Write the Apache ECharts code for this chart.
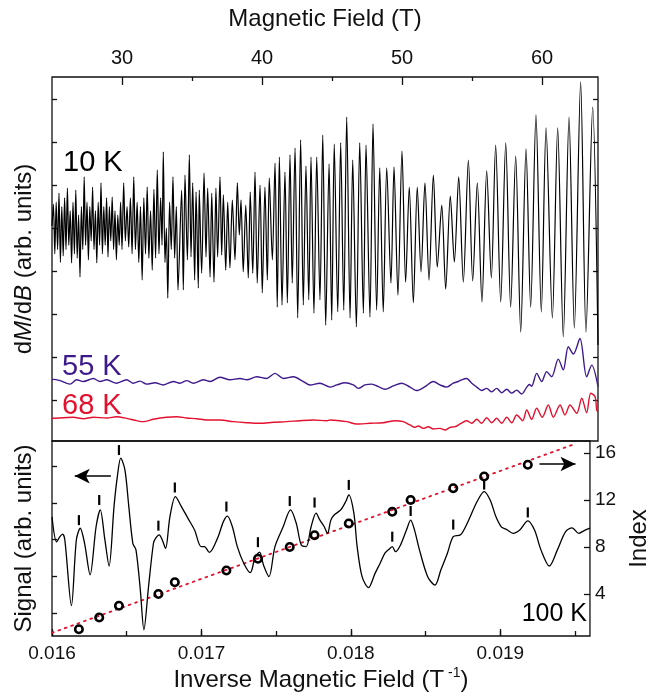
<!DOCTYPE html>
<html><head><meta charset="utf-8">
<script src="https://cdn.jsdelivr.net/npm/echarts@6.0.0/dist/echarts.min.js"></script>
<style>html,body{margin:0;padding:0;background:#fff}#c{width:659px;height:696px}</style>
</head><body><div id="c"></div>
<script>
const FONT = "'Liberation Sans', Arial, Helvetica, sans-serif";

// ---- Top panel: dM/dB vs magnetic field B (T) ----
const fieldTicksMajor = [30, 40, 50, 60];
const fieldTicksMinor = [35, 45, 55];
const topYTicks = [1, 2, 3, 4, 5, 6, 7, 8];

const trace10K = [
[25.0,5.05],[25.1,5.55],[25.2,4.40],[25.3,5.60],[25.4,4.50],[25.5,5.81],[25.6,4.20],[25.7,5.50],[25.8,4.35],[25.9,5.70],
[26.0,4.50],[26.1,5.93],[26.2,4.60],[26.3,5.40],[26.4,4.19],[26.5,5.60],[26.6,4.40],[26.7,5.88],[26.8,4.30],[26.9,5.30],
[27.0,3.86],[27.1,5.50],[27.2,4.50],[27.3,6.19],[27.4,4.60],[27.5,5.60],[27.6,4.26],[27.7,5.50],[27.8,4.70],[27.9,5.95],
[28.0,4.50],[28.1,5.40],[28.2,4.19],[28.3,5.60],[28.4,4.60],[28.5,6.05],[28.6,4.40],[28.7,5.50],[28.8,4.60],[28.9,5.70],
[29.0,4.33],[29.1,5.50],[29.2,4.70],[29.3,5.72],[29.4,4.50],[29.5,5.40],[29.6,4.26],[29.7,5.30],[29.8,4.60],[29.9,5.60],
[30.0,4.50],[30.12,6.05],[30.24,4.70],[30.36,5.50],[30.48,4.56],[30.6,5.70],[30.72,4.40],[30.84,6.19],[30.96,4.50],[31.08,5.60],
[31.2,4.20],[31.32,5.50],[31.44,3.79],[31.56,5.70],[31.68,4.40],[31.8,5.95],[31.92,4.30],[32.04,5.40],[32.16,4.02],[32.28,5.90],
[32.4,4.30],[32.52,6.35],[32.64,4.40],[32.76,5.70],[32.86,4.60],[32.95,6.77],[33.07,4.20],[33.17,5.00],[33.27,3.37],[33.4,5.60],
[33.52,4.50],[33.64,6.19],[33.76,4.30],[33.88,5.50],[34.0,3.56],
[34.26,5.88],[34.38,3.56],[34.50,6.23],[34.67,4.26],[34.81,6.70],[34.93,4.33],[35.05,6.05],[35.19,3.79],[35.29,5.84],[35.45,3.60],
[35.52,5.88],[35.69,3.95],[35.86,6.28],[36.00,4.33],[36.12,5.93],[36.29,3.86],[36.41,5.81],[36.57,3.74],[36.71,5.93],[36.83,4.33],
[37.00,6.19],[37.12,4.37],[37.24,5.77],[37.41,4.02],[37.55,5.60],[37.71,4.07],[37.88,5.65],[38.07,4.26],[38.24,6.05],[38.38,4.84],
[38.50,5.65],[38.66,3.98],[38.84,5.53],[39.02,3.84],[39.16,5.84],[39.34,3.95],[39.50,6.30],[39.66,3.72],[39.86,6.00],[40.02,3.49],
[40.21,5.95],[40.38,3.79],[40.52,6.16],[40.74,4.26],[40.93,6.51],[41.09,3.16],[41.24,6.65],[41.43,3.21],[41.64,6.30],[41.81,3.26],
[42.00,6.70],[42.16,3.72],[42.36,6.86],[42.55,2.91],[42.76,7.05],[42.95,3.21],[43.14,6.44],[43.34,3.33],[43.50,6.65],
[43.71,3.02],[43.91,6.65],[44.14,3.33],[44.34,7.16],[44.55,2.74],[44.79,6.49],[44.98,2.86],[45.16,6.95],[45.41,3.05],[45.62,6.98],
[45.84,3.09],[46.05,7.58],[46.29,2.91],[46.48,6.58],[46.74,2.70],[46.98,6.98],[47.24,3.02],[47.43,6.93],[47.71,2.93],[47.93,7.42],
[48.19,3.09],[48.41,6.40],[48.66,3.05],[48.91,6.40],[49.21,3.72],[49.43,6.42],[49.71,3.44],[50.00,6.79],[50.26,3.74],[50.52,5.95],
[50.81,3.26],[51.09,5.95],[51.36,3.98],[51.64,6.05],[51.93,3.79],[52.24,6.23],[52.52,4.09],[52.84,5.53],[53.12,3.58],[53.45,5.74],
[53.74,4.21],[54.05,6.19],[54.38,3.74],[54.74,6.58],[55.05,3.77],[55.38,6.05],[55.71,3.28],[56.05,6.33],[56.38,3.84],[56.69,6.93],
[57.05,3.28],[57.41,6.98],[57.76,3.16],[58.12,6.67],[58.48,2.58],[58.86,6.84],[59.19,3.16],[59.57,7.63],[59.95,3.05],[60.29,7.33],
[60.74,2.91],[61.12,7.33],[61.52,2.47],[61.93,7.58],[62.31,2.67],[62.76,8.40],[63.14,2.58],[63.62,7.81],[64.0,2.28]
];

const trace55K = [
[25.0,1.47],[25.10,1.48],[25.57,1.45],[26.29,1.37],[26.76,1.47],[27.24,1.43],[27.95,1.50],[28.43,1.43],[28.91,1.47],[29.62,1.39],
[30.33,1.47],[30.81,1.39],[31.29,1.44],[31.76,1.37],[32.36,1.40],[32.95,1.35],[33.67,1.43],[34.14,1.39],[34.62,1.45],[35.09,1.39],
[35.81,1.47],[36.29,1.43],[37.00,1.53],[37.71,1.47],[38.43,1.50],[38.91,1.47],[39.62,1.54],[40.34,1.50],[40.93,1.62],[41.52,1.50],
[42.24,1.54],[42.95,1.43],[43.43,1.35],[44.14,1.39],[44.86,1.30],[45.34,1.35],[45.93,1.40],[46.52,1.35],[46.88,1.27],[47.36,1.35],
[47.84,1.37],[48.31,1.31],[48.79,1.25],[49.38,1.33],[49.98,1.39],[50.57,1.30],[51.05,1.22],[51.64,1.31],[52.24,1.43],[52.71,1.35],
[53.19,1.30],[53.66,1.39],[54.02,1.43],[54.26,1.47],[54.62,1.50],[54.98,1.39],[55.34,1.30],[55.69,1.22],[56.05,1.27],[56.41,1.19],
[56.76,1.27],[57.12,1.17],[57.48,1.25],[57.84,1.16],[58.19,1.23],[58.55,1.14],[58.91,1.30],[59.10,1.36],[59.26,1.32],[59.62,1.62],
[59.98,1.43],[60.33,1.66],[60.69,1.54],[61.16,1.95],[61.52,1.70],[61.88,2.24],[62.24,2.07],[62.71,2.43],[63.19,1.54],[63.55,1.81],
[64.0,1.31]
];

const trace68K = [
[25.0,0.57],[25.10,0.574],[26.52,0.598],[27.24,0.565],[27.95,0.598],[28.91,0.581],[29.62,0.612],[30.33,0.574],[31.05,0.519],[31.52,0.496],
[32.24,0.551],[33.19,0.598],[33.91,0.612],[34.62,0.581],[35.34,0.565],[36.05,0.535],[37.00,0.535],[37.95,0.496],[38.91,0.472],[39.86,0.458],
[40.81,0.481],[41.76,0.496],[42.71,0.519],[43.66,0.535],[44.62,0.519],[44.86,0.535],[46.05,0.496],[46.76,0.442],[47.71,0.458],[48.66,0.472],
[49.50,0.519],[50.09,0.496],[50.57,0.419],[50.93,0.365],[51.16,0.395],[51.52,0.341],[51.88,0.379],[52.24,0.326],[52.71,0.341],[53.07,0.302],
[53.43,0.365],[53.79,0.379],[54.14,0.442],[54.62,0.519],[54.98,0.458],[55.34,0.551],[55.69,0.458],[56.05,0.588],[56.41,0.472],[56.76,0.574],
[57.12,0.458],[57.48,0.598],[57.84,0.472],[58.19,0.651],[58.62,0.519],[58.91,0.767],[59.26,0.551],[59.62,0.807],[60.02,0.598],[60.45,0.884],
[60.81,0.598],[61.29,0.884],[61.64,0.651],[62.00,0.884],[62.48,0.691],[62.84,1.04],[63.19,0.705],[63.48,1.156],[63.79,1.077],[63.91,0.767],
[64.0,0.72]
];

// ---- Bottom panel: 100 K signal vs inverse field (1/T) ----
const invTicks = [0.016, 0.0165, 0.017, 0.0175, 0.018, 0.0185, 0.019, 0.0195];
const invLabels = [0.016, 0.017, 0.018, 0.019];
const signalTicks = [1, 2, 3, 4, 5];
const indexLabels = [4, 8, 12, 16];

const signal100K = [
[0.016000,3.62],[0.016031,2.94],[0.016053,3.08],[0.016071,3.15],[0.016086,2.99],[0.016130,1.20],[0.016163,2.99],[0.016189,3.31],
[0.016218,2.90],[0.016255,2.04],[0.016295,3.35],[0.016323,3.81],[0.016354,2.99],[0.016382,2.28],[0.016415,3.90],[0.016437,4.71],
[0.016460,5.22],[0.016488,4.90],[0.016514,3.90],[0.016541,2.90],[0.016562,2.72],[0.016591,1.63],[0.016615,0.54],[0.016646,1.72],
[0.016679,2.90],[0.016694,3.04],[0.016717,3.13],[0.016738,2.99],[0.016760,2.76],[0.016789,3.62],[0.016826,4.17],[0.016866,3.90],
[0.016910,3.58],[0.016954,3.26],[0.016998,2.81],[0.017020,2.81],[0.017053,2.65],[0.017108,3.04],[0.017147,3.49],[0.017174,3.64],
[0.017207,3.35],[0.017240,2.81],[0.017284,2.35],[0.017327,2.10],[0.017360,2.53],[0.017389,2.66],[0.017415,2.31],[0.017452,1.99],
[0.017492,2.81],[0.017547,3.35],[0.017596,3.81],[0.017635,3.44],[0.017668,2.85],[0.017701,2.81],[0.017734,3.35],[0.017767,3.72],
[0.017793,3.53],[0.017822,3.35],[0.017844,3.17],[0.017866,3.53],[0.017888,3.67],[0.017932,3.81],[0.017965,4.03],[0.017986,4.22],
[0.018020,3.72],[0.018042,2.81],[0.018075,1.99],[0.018118,1.69],[0.018162,2.08],[0.018195,2.35],[0.018228,2.63],[0.018261,2.76],
[0.018277,2.81],[0.018299,2.67],[0.018327,2.81],[0.018372,3.26],[0.018400,3.53],[0.018426,3.26],[0.018459,2.72],[0.018514,1.99],
[0.018563,1.76],[0.018602,2.17],[0.018646,2.63],[0.018685,3.08],[0.018734,3.13],[0.018778,3.44],[0.018844,4.03],[0.018892,4.31],
[0.018932,4.08],[0.018971,3.62],[0.019008,3.34],[0.019041,3.28],[0.019086,3.17],[0.019130,3.26],[0.019184,3.51],[0.019229,3.26],
[0.019272,2.72],[0.019328,2.28],[0.019382,2.72],[0.019437,3.22],[0.019481,3.32],[0.019525,3.17],[0.019558,3.24],[0.019600,3.31]
];

const indexPosition = [0.016180,0.016316,0.016448,0.016712,0.016822,0.017167,0.017378,0.017591,0.017757,0.017986,0.018277,0.018400,0.018685,0.018892,0.019184];
const indexNumber   = [1,2,3,4,5,6,7,8,9,10,11,12,13,14,15];
const peakMarkLevel = [3.53,4.08,5.44,3.38,4.42,3.90,2.93,4.05,4.01,4.49,3.08,3.78,3.41,4.50,3.74];
const indexFit = [[0.016000,0.70],[0.019480,16.68]];
const arrowLeft  = [[0.016394,4.73],[0.016152,4.73]];
const arrowRight = [[0.019262,15.06],[0.019503,15.06]];

const INK = '#111';
const PURPLE = '#3d1a8c';
const RED = '#e3102e';
const tickStyle = {color: INK, width: 1.3};
const labelBase = {color: INK, fontFamily: FONT};

const chart = echarts.init(document.getElementById('c'), null, {renderer: 'canvas'});
chart.setOption({
  animation: false,
  backgroundColor: '#fff',
  grid: [
    {left: 52, top: 77, width: 546, height: 364, show: true, borderColor: INK, borderWidth: 1.3, backgroundColor: 'transparent'},
    {left: 52, top: 441, width: 546, height: 195, show: true, borderColor: INK, borderWidth: 1.3, backgroundColor: 'transparent'}
  ],
  xAxis: [
    {gridIndex: 0, type: 'value', position: 'top', min: 25, max: 64,
     axisLine: {show: false, onZero: false}, splitLine: {show: false},
     axisTick: {inside: true, length: 8, customValues: fieldTicksMajor, lineStyle: tickStyle},
     axisLabel: Object.assign({customValues: fieldTicksMajor, fontSize: 20, margin: 9}, labelBase),
     name: 'Magnetic Field (T)', nameLocation: 'middle', nameGap: 46,
     nameTextStyle: {fontSize: 24, color: INK, fontFamily: FONT}},
    {gridIndex: 0, type: 'value', position: 'bottom', offset: -364, min: 25, max: 64,
     axisLine: {show: false, onZero: false}, splitLine: {show: false},
     axisTick: {inside: false, length: 4, customValues: fieldTicksMinor, lineStyle: tickStyle},
     axisLabel: {show: false}},
    {gridIndex: 1, type: 'value', position: 'bottom', min: 0.016, max: 0.0196,
     axisLine: {show: false, onZero: false}, splitLine: {show: false},
     axisTick: {inside: true, length: 7, customValues: invLabels, lineStyle: tickStyle},
     axisLabel: Object.assign({customValues: invLabels, fontSize: 19, margin: 8, formatter: v => v.toFixed(3)}, labelBase),
     name: '{a|Inverse Magnetic Field (T}{s| -1}{a|)}', nameLocation: 'middle', nameGap: 30,
     nameTextStyle: {fontSize: 24, color: INK, fontFamily: FONT,
       rich: {a: {fontSize: 24, fontFamily: FONT, color: INK, lineHeight: 28},
              s: {fontSize: 14, fontFamily: FONT, color: INK, verticalAlign: 'top', lineHeight: 28}}}},
    {gridIndex: 1, type: 'value', position: 'top', offset: -195, min: 0.016, max: 0.0196,
     axisLine: {show: false, onZero: false}, splitLine: {show: false},
     axisTick: {inside: false, length: 5, customValues: invTicks, lineStyle: tickStyle},
     axisLabel: {show: false}}
  ],
  yAxis: [
    {gridIndex: 0, type: 'value', position: 'left', min: 0.0465, max: 8.512,
     axisLine: {show: false, onZero: false}, splitLine: {show: false},
     axisTick: {inside: true, length: 5, customValues: topYTicks, lineStyle: tickStyle},
     axisLabel: {show: false},
     name: '{a|d}{i|M}{a|/d}{i|B}{a| (arb. units)}', nameLocation: 'middle', nameGap: 16, nameRotate: 90,
     nameTextStyle: {fontSize: 24, color: INK, fontFamily: FONT,
       rich: {a: {fontSize: 24, fontFamily: FONT, color: INK}, i: {fontSize: 24, fontFamily: FONT, color: INK, fontStyle: 'italic'}}}},
    {gridIndex: 0, type: 'value', position: 'right', min: 0.0465, max: 8.512,
     axisLine: {show: false, onZero: false}, splitLine: {show: false},
     axisTick: {inside: true, length: 5, customValues: topYTicks, lineStyle: tickStyle},
     axisLabel: {show: false}},
    {gridIndex: 1, type: 'value', position: 'left', min: 0.373, max: 5.687,
     axisLine: {show: false, onZero: false}, splitLine: {show: false},
     axisTick: {inside: true, length: 5, customValues: signalTicks, lineStyle: tickStyle},
     axisLabel: {show: false},
     name: 'Signal (arb. units)', nameLocation: 'middle', nameGap: 16, nameRotate: 90,
     nameTextStyle: {fontSize: 24, color: INK, fontFamily: FONT}},
    {gridIndex: 1, type: 'value', position: 'right', min: 0.43, max: 17.02,
     axisLine: {show: false, onZero: false}, splitLine: {show: false},
     axisTick: {inside: true, length: 6, customValues: indexLabels, lineStyle: tickStyle},
     axisLabel: Object.assign({customValues: indexLabels, fontSize: 19, margin: 5}, labelBase),
     name: 'Index', nameLocation: 'middle', nameGap: 30, nameRotate: 90,
     nameTextStyle: {fontSize: 24, color: INK, fontFamily: FONT}}
  ],
  series: [
    {name: '10 K', type: 'line', xAxisIndex: 0, yAxisIndex: 0, data: trace10K, symbol: 'none', smooth: 0.3,
     lineStyle: {color: '#000', width: 1.2}, z: 5},
    {name: '55 K', type: 'line', xAxisIndex: 0, yAxisIndex: 0, data: trace55K, symbol: 'none', smooth: 0.3,
     lineStyle: {color: PURPLE, width: 1.4}, z: 4},
    {name: '68 K', type: 'line', xAxisIndex: 0, yAxisIndex: 0, data: trace68K, symbol: 'none', smooth: 0.3,
     lineStyle: {color: RED, width: 1.4}, z: 4},
    {name: 'fit', type: 'line', xAxisIndex: 2, yAxisIndex: 3, data: indexFit, symbol: 'none',
     lineStyle: {color: RED, width: 1.8, type: [1.8, 5], cap: 'round'}, z: 3},
    {name: '100 K', type: 'line', xAxisIndex: 2, yAxisIndex: 2, data: signal100K, symbol: 'none', smooth: 0.3,
     lineStyle: {color: '#000', width: 1.3}, z: 5,
     markLine: {silent: true, animation: false, label: {show: false}, lineStyle: {color: '#000', width: 1.7, type: 'solid'},
       data: [[{coord: arrowLeft[0], symbol: 'none'}, {coord: arrowLeft[1], symbol: 'arrow', symbolSize: [11, 15]}]]}},
    {name: 'marks', type: 'scatter', xAxisIndex: 2, yAxisIndex: 2,
     data: indexPosition.map((u, i) => [u, peakMarkLevel[i]]),
     symbol: 'rect', symbolSize: [2.2, 10], itemStyle: {color: '#000', opacity: 1}, z: 6},
    {name: 'index', type: 'scatter', xAxisIndex: 2, yAxisIndex: 3,
     data: indexPosition.map((u, i) => [u, indexNumber[i]]),
     symbol: 'circle', symbolSize: 7.5, itemStyle: {color: 'rgba(255,255,255,0)', borderColor: '#000', borderWidth: 2.6, opacity: 1}, z: 7,
     markLine: {silent: true, animation: false, label: {show: false}, lineStyle: {color: '#000', width: 1.7, type: 'solid'},
       data: [[{coord: arrowRight[0], symbol: 'none'}, {coord: arrowRight[1], symbol: 'arrow', symbolSize: [11, 15]}]]}}
  ],
  graphic: [
    {type: 'text', x: 63, y: 163, style: {text: '10 K', font: '29px ' + FONT, fill: '#000', verticalAlign: 'middle'}},
    {type: 'text', x: 62, y: 367, style: {text: '55 K', font: '29px ' + FONT, fill: PURPLE, verticalAlign: 'middle'}},
    {type: 'text', x: 62, y: 406, style: {text: '68 K', font: '29px ' + FONT, fill: RED, verticalAlign: 'middle'}},
    {type: 'text', x: 587, y: 614, style: {text: '100 K', font: '25px ' + FONT, fill: '#000', align: 'right', verticalAlign: 'middle'}}
  ]
});
</script></body></html>
